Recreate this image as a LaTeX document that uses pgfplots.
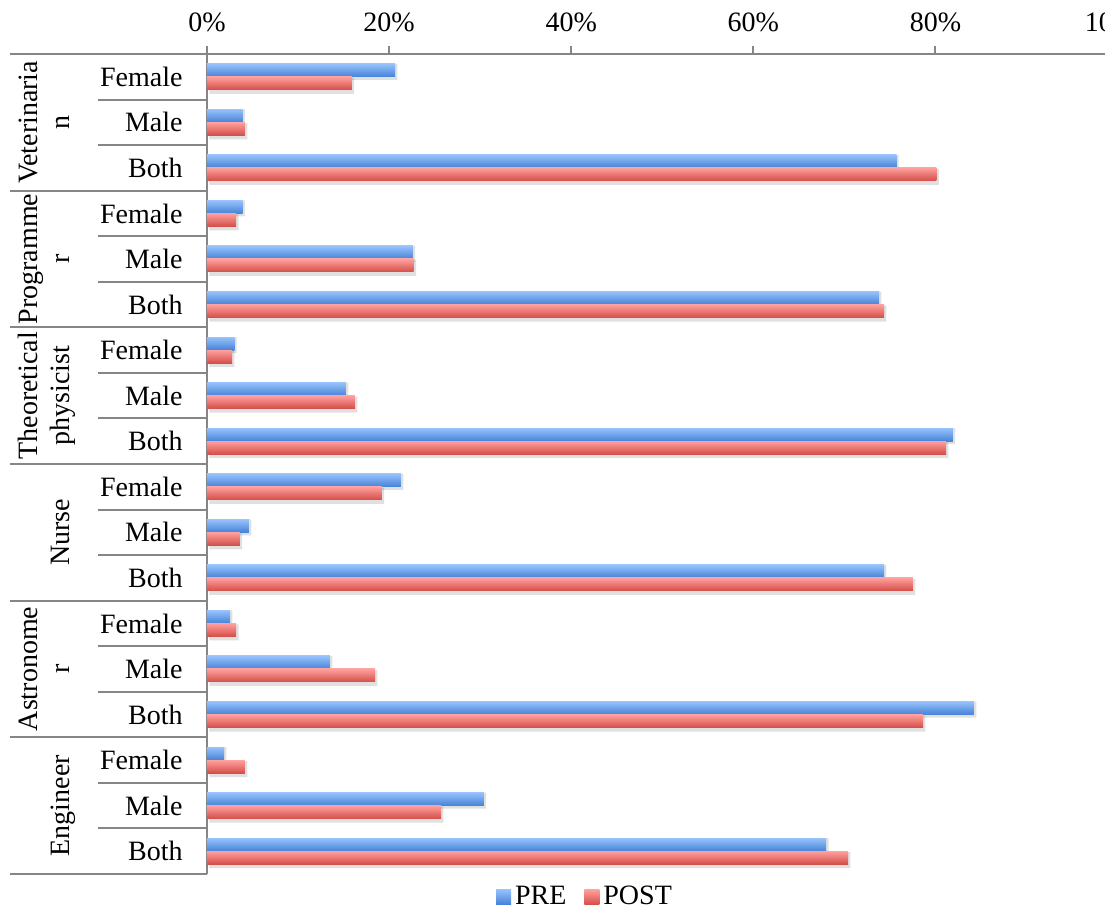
\documentclass[border=0pt]{standalone}
\usepackage{pgfplots}
\pgfplotsset{compat=1.18}
\usepackage{fontspec}
\setmainfont{Liberation Serif}

\definecolor{preL}{RGB}{150,194,252}
\definecolor{preM}{RGB}{128,176,244}
\definecolor{preD}{RGB}{70,130,214}
\definecolor{postL}{RGB}{255,160,158}
\definecolor{postM}{RGB}{246,136,132}
\definecolor{postD}{RGB}{212,78,72}
\definecolor{lineg}{RGB}{134,134,134}

% y = row index, 0 = Veterinarian/Female at the top
\pgfplotstableread{
y pre post
0 0.2065 0.159
1 0.039 0.0417
2 0.757 0.801
3 0.039 0.032
4 0.226 0.227
5 0.738 0.7435
6 0.030 0.0275
7 0.1526 0.1625
8 0.819 0.8116
9 0.213 0.192
10 0.046 0.036
11 0.7435 0.7753
12 0.0253 0.032
13 0.135 0.1845
14 0.8423 0.7863
15 0.0187 0.0417
16 0.304 0.257
17 0.680 0.704
}\datatable

\pgfplotsset{
  prestyle/.style={draw=none, top color=preL, middle color=preM, bottom color=preD},
  poststyle/.style={draw=none, top color=postL, middle color=postM, bottom color=postD},
}

\begin{document}
\fontsize{14}{16}\selectfont
\begin{tikzpicture}
\begin{axis}[
    at={(0,0)}, anchor=south west,
    scale only axis,
    width=455.3pt, height=410pt,
    xbar, bar width=6.5pt,
    xmin=0, xmax=1,
    ymin=-0.5, ymax=17.5,
    y dir=reverse,
    clip=false,
    axis x line*=top,
    axis y line*=left,
    axis line style={-, draw=lineg, line width=1pt},
    xtick={0,0.2,0.4,0.6,0.8,1},
    xticklabels={0\%,20\%,40\%,60\%,80\%,100\%},
    xticklabel pos=upper,
    xticklabel style={yshift=2pt},
    tick align=outside,
    major tick length=4pt,
    x tick style={draw=lineg, line width=1pt},
    ytick=\empty,
    /pgf/number format/assume math mode=true,
    tick label style={font=\fontsize{14}{16}\selectfont},
    legend style={at={(0.4162,-0.028)}, anchor=center, draw=none, fill=none,
        legend columns=2, font=\fontsize{14}{16}\selectfont,
        /tikz/every even column/.append style={column sep=7pt}},
    legend image code/.code={\path[#1] (0pt,-3.75pt) rectangle (7.5pt,3.75pt);},
]
% soft shadows
\addplot[forget plot, draw=none, fill=black, opacity=0.12, bar shift=2.5pt,
    xshift=1.2pt, bar width=8pt] table[x=pre, y=y] {\datatable};
\addplot[forget plot, draw=none, fill=black, opacity=0.12, bar shift=-4.5pt,
    xshift=1.2pt, bar width=8pt] table[x=post, y=y] {\datatable};
% one plot per bar so that each bar gets its own shading
\pgfplotsinvokeforeach{0,...,17}{
  \addplot[forget plot, prestyle, bar shift=3.25pt, restrict y to domain=#1:#1]
      table[x=pre, y=y] {\datatable};
  \addplot[forget plot, poststyle, bar shift=-3.25pt, restrict y to domain=#1:#1]
      table[x=post, y=y] {\datatable};
}
\addlegendimage{prestyle}
\addlegendentry{PRE}
\addlegendimage{poststyle}
\addlegendentry{POST}

% table rules on the left
\pgfplotsinvokeforeach{-0.5,2.5,5.5,8.5,11.5,14.5,17.5}{
  \draw[lineg, line width=1pt] ([xshift=-98.5pt]axis cs:0,#1) -- (axis cs:0,#1);
}
\pgfplotsinvokeforeach{0.5,1.5,3.5,4.5,6.5,7.5,9.5,10.5,12.5,13.5,15.5,16.5}{
  \draw[lineg, line width=1pt] ([xshift=-54.5pt]axis cs:0,#1) -- (axis cs:0,#1);
}
% row labels
\pgfplotsinvokeforeach{0,3,6,9,12,15}{
  \node[anchor=east, inner sep=0pt] at ([xshift=-12pt]axis cs:0,#1) {Female};
}
\pgfplotsinvokeforeach{1,4,7,10,13,16}{
  \node[anchor=east, inner sep=0pt] at ([xshift=-12pt]axis cs:0,#1) {Male};
}
\pgfplotsinvokeforeach{2,5,8,11,14,17}{
  \node[anchor=east, inner sep=0pt] at ([xshift=-12pt]axis cs:0,#1) {Both};
}
% group labels
\node[rotate=90, anchor=base] at ([xshift=-84.5pt]axis cs:0,1) {Veterinaria};
\node[rotate=90, anchor=base] at ([xshift=-68.5pt]axis cs:0,1) {n};
\node[rotate=90, anchor=base] at ([xshift=-84.5pt]axis cs:0,4) {Programme};
\node[rotate=90, anchor=base] at ([xshift=-68.5pt]axis cs:0,4) {r};
\node[rotate=90, anchor=base] at ([xshift=-84.5pt]axis cs:0,7) {Theoretical};
\node[rotate=90, anchor=base] at ([xshift=-68.5pt]axis cs:0,7) {physicist};
\node[rotate=90, anchor=base] at ([xshift=-68.5pt]axis cs:0,10) {Nurse};
\node[rotate=90, anchor=base] at ([xshift=-84.5pt]axis cs:0,13) {Astronome};
\node[rotate=90, anchor=base] at ([xshift=-68.5pt]axis cs:0,13) {r};
\node[rotate=90, anchor=base] at ([xshift=-68.5pt]axis cs:0,16) {Engineer};
\end{axis}
\pgfresetboundingbox
\useasboundingbox (-103.5pt,-17pt) rectangle (449pt,437pt);
\end{tikzpicture}
\end{document}
